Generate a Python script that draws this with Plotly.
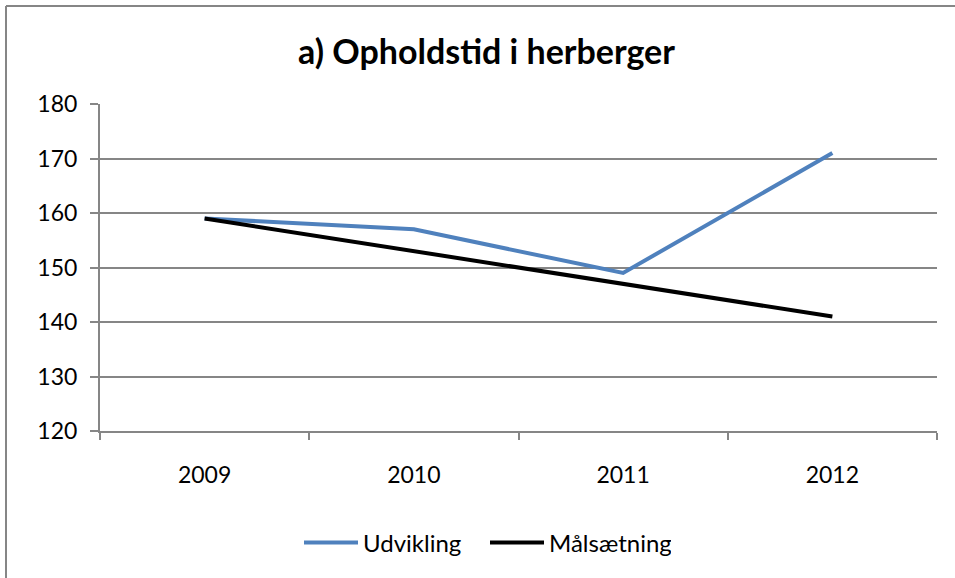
import plotly.graph_objects as go

years = ["2009", "2010", "2011", "2012"]
udvikling = [159, 157, 149, 171]
maalsaetning = [159, 153, 147, 141]
y_ticks = [120, 130, 140, 150, 160, 170, 180]

W, H = 955, 578
L, R, T, B = 100, 18, 104, 147
pw, ph = W - L - R, H - T - B

fig = go.Figure()
fig.add_trace(go.Scatter(x=years, y=udvikling, mode="lines", name="Udvikling",
                         line=dict(color="#4F81BD", width=4)))
fig.add_trace(go.Scatter(x=years, y=maalsaetning, mode="lines", name="Målsætning",
                         line=dict(color="#000000", width=4)))

def px_x(p):
    return (p - L) / pw

def px_y(p):
    return (H - B - p) / ph

fig.update_layout(
    width=W, height=H,
    margin=dict(l=L, r=R, t=T, b=B),
    paper_bgcolor="white", plot_bgcolor="white",
    font=dict(family="Lato, 'Open Sans', sans-serif", color="black", size=23),
    title=dict(text="<b>a) Opholdstid i herberger</b>", x=486.5 / W, xanchor="center",
               y=1 - 52 / H, yanchor="middle",
               font=dict(size=34, family="Lato, sans-serif", color="black")),
    showlegend=True,
    legend=dict(orientation="h", x=px_x(485), xanchor="center", y=px_y(543), yanchor="middle",
                font=dict(size=24), tracegroupgap=0, itemwidth=54, entrywidth=117,
                entrywidthmode="pixels"),
    xaxis=dict(type="category", showgrid=False, ticks="outside", tickson="boundaries",
               ticklen=7, tickcolor="#868686", tickwidth=2, showline=True,
               linecolor="#868686", linewidth=2, range=[-0.5, 3.5],
               tickfont=dict(size=23), ticklabelstandoff=22),
    yaxis=dict(range=[120, 180], tickvals=y_ticks, showgrid=True, gridcolor="#868686",
               gridwidth=2, showline=True, linecolor="#868686", linewidth=2,
               ticks="outside", ticklen=8, tickcolor="#868686", tickwidth=2,
               zeroline=False, tickfont=dict(size=23), ticklabelstandoff=8),
    shapes=[
        dict(type="line", xref="paper", yref="paper", x0=px_x(6), x1=px_x(W + 5),
             y0=px_y(6), y1=px_y(6), line=dict(color="#868686", width=2)),
        dict(type="line", xref="paper", yref="paper", x0=px_x(6), x1=px_x(6),
             y0=px_y(6), y1=px_y(H + 5), line=dict(color="#868686", width=2)),
    ],
)

fig.write_html("out.html", config={"displayModeBar": False},
               post_script="document.body.style.margin='0';document.body.style.overflow='hidden';")
